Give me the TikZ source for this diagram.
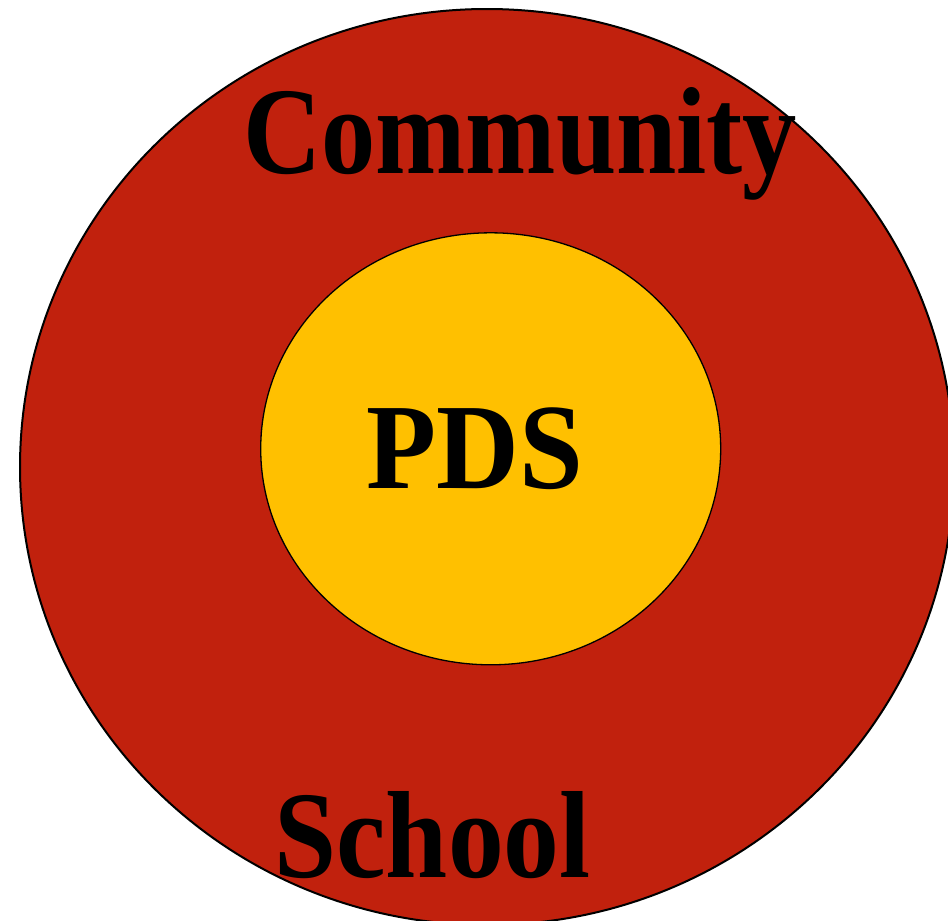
\documentclass[tikz,border=0pt]{standalone}
\usepackage{fontspec}
\usepackage{graphicx}
\setmainfont{Liberation Serif}
\definecolor{ringred}{HTML}{C1210D}
\definecolor{coregold}{HTML}{FFC000}
\begin{document}
\begin{tikzpicture}[x=1pt,y=-1pt,
  ringlabel/.style={inner sep=0pt,anchor=base,font=\bfseries\fontsize{124}{130}\selectfont}]
\useasboundingbox (0,0) rectangle (948,921);
\clip (0,0) rectangle (948,921);
\draw[fill=ringred,line width=2pt] (487,467) ellipse [x radius=467,y radius=458];
\draw[fill=coregold,line width=1.3pt] (490.7,448.8) ellipse [x radius=230,y radius=216];
\node[ringlabel] (community) at (520,173) {\scalebox{0.874}[1]{Community}};
\node[ringlabel,font=\bfseries\fontsize{122}{128}\selectfont] (pds) at (475,488) {\scalebox{0.94}[1]{PDS}};
\node[ringlabel] (school) at (432.5,877) {\scalebox{0.9}[1]{School}};
\end{tikzpicture}
\end{document}
